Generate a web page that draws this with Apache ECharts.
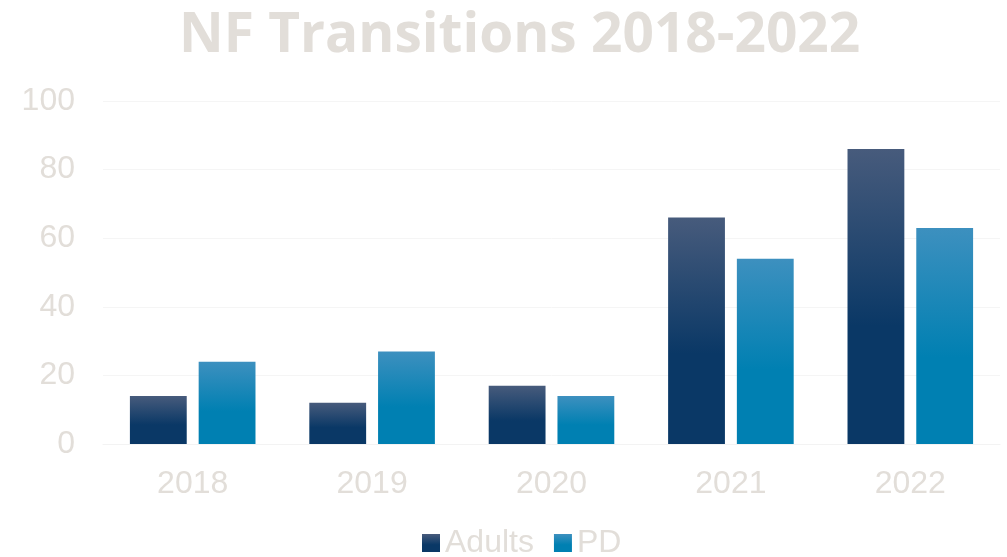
<!DOCTYPE html>
<html>
<head>
<meta charset="utf-8">
<script src="https://cdn.jsdelivr.net/npm/echarts@6/dist/echarts.min.js"></script>
<style>
  html, body { margin: 0; padding: 0; background: #fff; }
  #chart { width: 1007px; height: 557px; }
</style>
</head>
<body>
<div id="chart"></div>
<script>
var years = ['2018', '2019', '2020', '2021', '2022'];
var adults = [14, 12, 17, 66, 86];
var pd = [24, 27, 14, 54, 63];

var myChart = echarts.init(document.getElementById('chart'));
var textColor = '#e2ded9';

function grad(top, bottom) {
    return new echarts.graphic.LinearGradient(0, 0, 0, 1, [
        { offset: 0, color: top },
        { offset: 0.6, color: bottom },
        { offset: 1, color: bottom }
    ]);
}

var option = {
    animation: false,
    title: {
        text: 'NF Transitions 2018-2022',
        left: 174,
        top: 4,
        textStyle: {
            fontFamily: 'Open Sans',
            fontWeight: 'bold',
            fontSize: 55,
            color: textColor
        }
    },
    grid: { left: 103, right: 7, top: 101, bottom: 113 },
    legend: {
        bottom: -7,
        left: 417,
        itemWidth: 18,
        itemHeight: 18,
        itemGap: 20,
        icon: 'rect',
        textStyle: { fontFamily: 'Liberation Sans', fontSize: 32, color: textColor }
    },
    xAxis: {
        type: 'category',
        data: years,
        axisTick: { show: false },
        axisLine: { lineStyle: { color: '#f3f3f3', width: 1 } },
        axisLabel: { fontFamily: 'Liberation Sans', fontSize: 32, color: textColor, margin: 24 }
    },
    yAxis: {
        type: 'value',
        min: 0,
        max: 100,
        interval: 20,
        axisLine: { show: false },
        axisTick: { show: false },
        splitLine: { lineStyle: { color: '#f5f5f5' } },
        axisLabel: { fontFamily: 'Liberation Sans', fontSize: 32, color: textColor, margin: 28 }
    },
    series: [
        {
            name: 'Adults',
            type: 'bar',
            data: adults,
            barGap: '21%',
            barCategoryGap: '30%',
            itemStyle: { color: grad('#475b7c', '#0a3866') }
        },
        {
            name: 'PD',
            type: 'bar',
            data: pd,
            itemStyle: { color: grad('#3d90bf', '#0080b2') }
        }
    ]
};
myChart.setOption(option);
</script>
</body>
</html>
